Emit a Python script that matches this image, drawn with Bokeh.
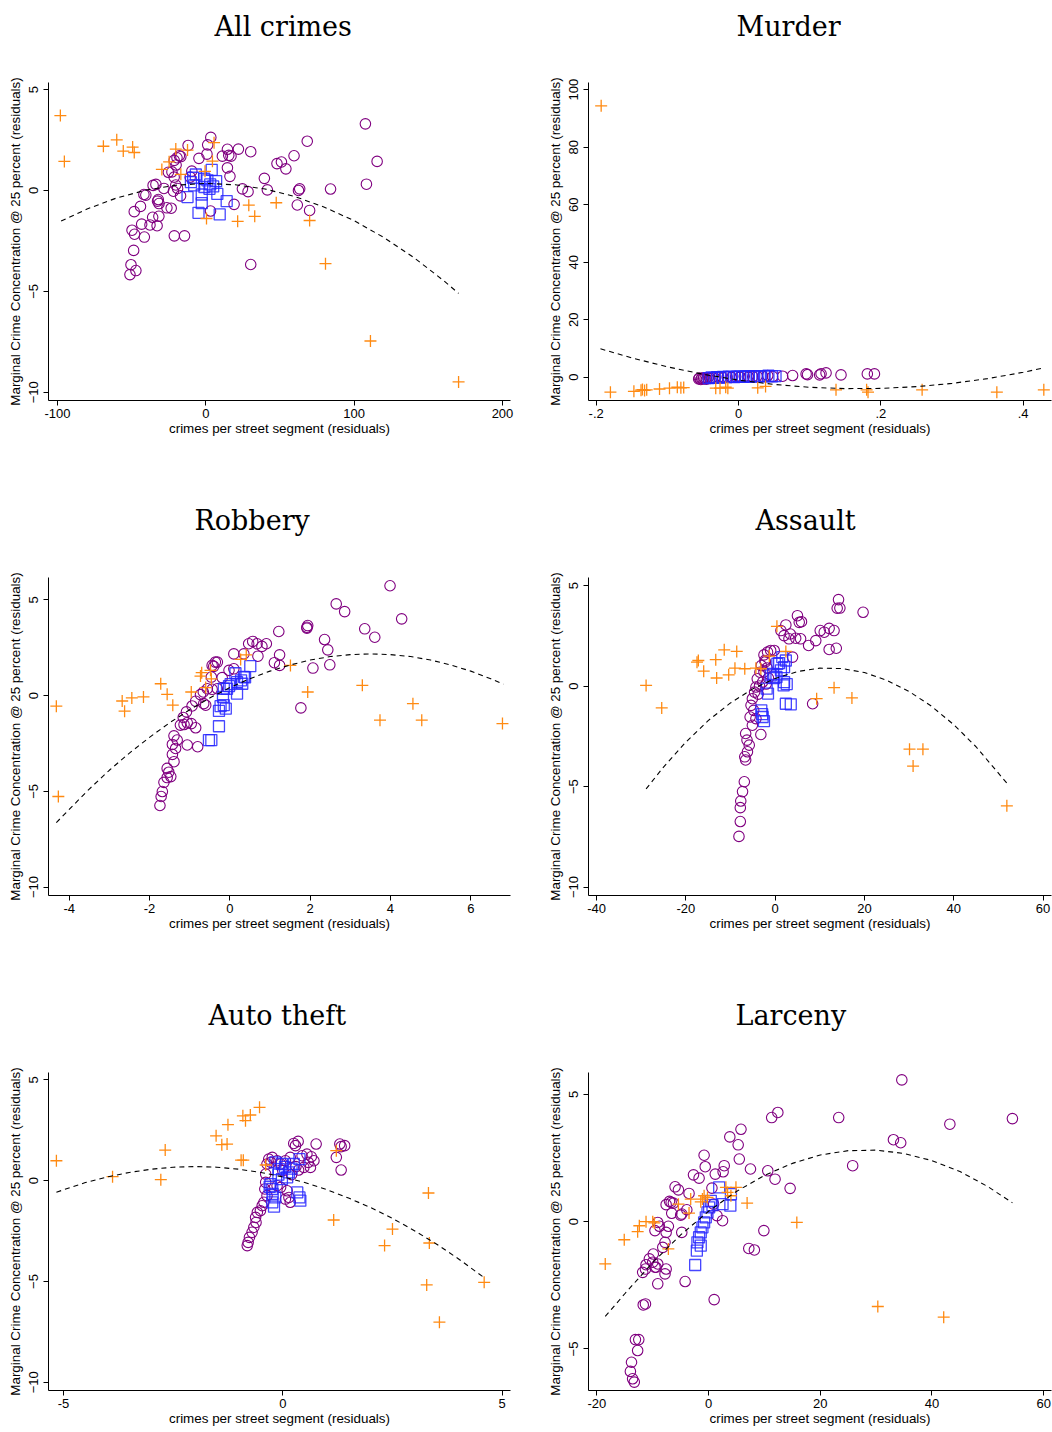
from bokeh.plotting import figure
from bokeh.layouts import gridplot
from bokeh.models import Range1d, FixedTicker
from bokeh.embed import file_html
from bokeh.resources import INLINE

# ---------------- data: All crimes ----------------
cx1 = [-11.9,3.4,1.3,0.8,-4.6,14.6,22.0,30.3,15.5,11.2,17.0,14.6,16.3,68.4,107.6,115.5,108.3,59.5,48.0,51.0,54.0,39.5,41.5,24.7,28.5,62.5,63.3,84.1,61.7,70.0,19.1,3.2,30.3,-14.3,-21.2,-41.4,-48.0,-49.7,-48.6,-50.4,-47.1,-51.1,-44.0,-48.2,-43.2,-37.6,-35.8,-32.8,-31.6,-32.5,-32.0,-31.5,-26.2,-23.3,-41.7,-40.4,-35.5,-33.6,-28.2,-25.2,-22.8,-21.3,-19.4,-17.8,-16.8,-20.0,-21.3,-20.2,-19.0,-21.8,-17.0,-9.4,-10.5]
cy1 = [2.23,2.63,2.26,1.80,1.59,2.04,2.05,1.92,1.74,1.70,1.70,1.12,0.70,2.44,3.30,1.44,0.31,1.72,1.33,1.41,1.07,0.60,0.03,0.08,-0.06,0.0,0.08,0.07,-0.72,-0.99,-0.69,-1.02,-3.67,-2.25,-2.25,-2.31,-2.17,-1.97,-2.97,-3.68,-3.97,-4.17,-0.79,-1.05,-1.67,-1.71,-1.33,-1.75,-1.28,-0.53,-0.45,-0.65,-0.86,-0.88,-0.20,-0.23,0.25,0.30,0.10,0.90,0.92,1.49,1.62,1.72,1.68,1.26,0.66,0.27,0.10,-0.04,-0.27,0.96,0.66]
bx1 = [-6.7,-8.5,-7.8,4.0,1.1,7.0,-0.9,2.5,7.8,-12.3,-2.7,14.1,-2.7,-4.9,9.4,-10.0,-1.0,3.0,5.0]
by1 = [0.79,0.63,0.25,1.02,0.50,0.46,0.17,0.08,-0.17,-0.33,-0.20,-0.53,-0.63,-1.11,-1.19,0.41,0.58,0.30,0.20]
ox1 = [-98.0,-95.3,-69.0,-60.0,-55.6,-49.3,-48.2,-29.6,-24.7,-20.2,-16.8,-12.3,-0.5,4.5,5.6,0.5,21.5,29.0,33.0,47.5,70.0,80.7,111.0,170.4]
oy1 = [3.71,1.44,2.19,2.51,1.95,2.15,1.88,1.04,1.42,2.05,0.80,2.00,0.95,1.45,2.37,-1.39,-1.53,-0.73,-1.28,-0.61,-1.49,-3.63,-7.46,-9.49]
fx1 = [-97.5,-80,-60,-40,-20,0,20,40,60,80,100,120,140,160,170.4]
fy1 = [-1.52,-0.92,-0.37,0.02,0.26,0.35,0.28,0.07,-0.30,-0.83,-1.50,-2.33,-3.31,-4.45,-5.10]

# ---------------- data: Murder ----------------
cx2 = [-0.056,-0.055,-0.053,-0.052,-0.050,-0.049,-0.047,-0.045,-0.043,-0.040,-0.037,-0.033,-0.028,-0.022,-0.016,-0.010,-0.004,0.002,0.008,0.014,0.020,0.026,0.034,0.041,0.048,0.062,0.076,0.095,0.097,0.114,0.116,0.123,0.144,0.181,0.191]
cy2 = [-0.6,-0.3,-0.8,-0.4,-0.6,-0.2,-0.5,-0.7,-0.3,-0.4,-0.1,-0.3,0.0,-0.2,0.1,-0.1,0.2,0.0,0.3,0.1,0.2,0.4,0.35,0.58,0.23,0.35,0.58,1.16,0.9,0.81,1.2,1.5,0.81,1.16,1.16]
bx2 = [-0.042,-0.038,-0.034,-0.030,-0.026,-0.022,-0.018,-0.014,-0.010,-0.006,-0.002,0.002,0.006,0.010,0.014,0.018,0.022,0.026,0.030,0.036,0.042,0.047,0.052]
by2 = [-0.3,-0.1,-0.2,0.0,-0.1,0.1,0.0,0.2,0.1,0.0,0.2,0.3,0.1,0.3,0.2,0.4,0.3,0.2,0.4,0.3,0.5,0.3,0.4]
ox2 = [-0.193,-0.180,-0.147,-0.137,-0.135,-0.132,-0.129,-0.111,-0.097,-0.086,-0.081,-0.077,-0.032,-0.026,-0.018,-0.015,0.027,0.038,0.137,0.180,0.182,0.258,0.363,0.429]
oy2 = [94.4,-5.2,-4.9,-4.5,-4.3,-4.6,-4.4,-4.1,-3.8,-3.5,-3.7,-3.6,-3.8,-3.8,-3.5,-3.8,-3.7,-3.2,-4.4,-4.4,-5.2,-4.4,-5.2,-4.4]
fx2 = [-0.194,-0.15,-0.1,-0.05,0.0,0.05,0.1,0.15,0.2,0.25,0.3,0.35,0.4,0.428]
fy2 = [9.89,6.72,3.61,1.04,-1.01,-2.52,-3.51,-3.97,-3.89,-3.29,-2.15,-0.49,1.71,3.17]

# ---------------- data: Robbery ----------------
cx3 = [3.99,2.65,2.86,4.28,3.36,3.61,1.92,1.92,1.94,2.36,2.44,2.49,2.07,1.22,1.24,1.24,1.11,1.77,0.10,0.35,0.47,0.57,0.68,0.80,0.91,0.70,-0.40,-0.31,-0.46,-0.19,-0.02,0.10,-0.31,-0.44,-0.56,-0.66,-0.73,-0.65,-0.60,-0.85,-0.94,-1.08,-1.16,-1.06,-0.96,-0.85,-1.14,-1.23,-1.39,-1.31,-1.43,-1.35,-1.06,-0.80,-1.43,-1.39,-1.56,-1.52,-1.47,-1.56,-1.64,-1.68,-1.71,-1.74,-0.36,-0.44]
cy3 = [5.74,4.79,4.39,4.01,3.49,3.05,3.57,3.52,3.66,2.93,2.39,1.61,1.44,3.35,2.13,1.58,1.72,-0.64,2.18,2.18,2.71,2.83,2.71,2.57,2.71,2.06,1.53,1.75,0.97,0.94,1.32,1.40,0.36,0.33,0.36,0.19,0.05,-0.42,-0.50,-0.29,-0.54,-0.85,-1.14,-1.42,-1.46,-1.68,-1.51,-1.54,-2.10,-2.32,-2.55,-2.76,-2.58,-2.67,-3.07,-3.45,-3.80,-4.00,-4.23,-4.28,-4.53,-5.01,-5.27,-5.74,1.75,1.58]
bx3 = [0.51,0.35,0.28,0.31,0.14,0.18,0.02,-0.02,-0.15,-0.17,0.18,-0.23,-0.15,-0.10,-0.27,-0.27,-0.52,-0.46,0.38,-0.07]
by3 = [1.54,0.98,0.80,0.62,1.17,0.71,0.60,0.50,0.36,-0.07,0.10,-0.55,-0.50,-0.68,-0.80,-1.60,-2.32,-2.32,0.95,0.36]
ox3 = [-4.32,-4.27,-2.68,-2.62,-2.44,-2.15,-1.72,-1.56,-1.42,-0.96,-0.70,-0.73,-0.48,-0.46,-0.60,0.27,0.41,1.51,1.94,3.30,3.74,4.56,4.78,6.79]
oy3 = [-0.55,-5.27,-0.28,-0.81,-0.12,-0.07,0.62,0.07,-0.50,0.19,1.20,1.02,1.32,0.88,0.42,1.89,2.13,1.58,0.19,0.54,-1.28,-0.42,-1.28,-1.46]
fx3 = [-4.32,-3.5,-3,-2.5,-2,-1.5,-1,-0.5,0,0.5,1,1.5,2,2.5,3,3.5,4,4.5,5,5.5,6,6.5,6.81]
fy3 = [-6.63,-4.88,-3.90,-3.00,-2.18,-1.42,-0.74,-0.12,0.42,0.88,1.28,1.60,1.86,2.04,2.14,2.18,2.14,2.04,1.86,1.60,1.28,0.88,0.60]

# ---------------- data: Assault ----------------
cx4 = [14.2,13.9,14.5,19.7,5.0,5.9,5.4,2.4,1.3,2.0,3.4,3.1,4.6,5.7,7.5,9.1,10.1,11.0,12.1,13.2,12.1,13.7,3.9,8.4,-1.7,-1.0,-2.5,-0.2,-3.1,-3.4,-4.0,-4.3,-4.6,-5.1,-5.4,-4.8,-5.6,-4.3,-5.1,-3.2,-6.6,-6.3,-5.8,-6.2,-6.8,-6.6,-6.9,-7.3,-7.7,-7.8,-7.8,-8.1,-2.2,-1.8,-2.5,-1.5,-2.8,-3.5,-3.8,-2.0,-2.3]
cy4 = [4.30,3.87,3.88,3.67,3.50,3.20,3.17,3.04,2.76,2.51,2.59,2.35,2.38,2.35,2.02,2.26,2.76,2.68,2.87,2.76,1.82,1.88,1.44,-0.88,1.69,1.77,1.55,1.77,1.02,0.69,0.36,-0.05,-0.30,-0.63,-0.96,-1.21,-1.54,-1.62,-1.95,-2.41,-2.36,-2.69,-2.94,-3.27,-3.52,-3.68,-4.76,-5.25,-5.72,-6.05,-6.74,-7.48,1.2,0.9,0.7,0.4,0.2,0.0,-0.4,0.1,1.27]
bx4 = [1.6,2.4,0.5,2.0,1.3,-1.0,-0.2,-1.9,-1.6,2.0,2.4,3.5,-3.1,-2.8,-2.5,0.9,2.6,1.9,-2.9,-0.5,0.3]
by4 = [1.44,1.27,1.11,0.94,0.78,0.53,0.40,-0.13,-0.38,0.20,-0.88,-0.91,-1.21,-1.54,-1.75,1.14,0.10,0.03,-1.40,0.60,0.45]
ox4 = [-28.9,-25.4,-17.5,-17.2,-16.0,-13.3,-13.1,-11.4,-10.4,-8.6,-9.0,-6.8,-4.3,-3.2,-1.3,0.4,2.4,9.3,13.2,17.2,30.1,33.1,30.9,51.9]
oy4 = [0.03,-1.09,1.19,1.27,0.74,1.31,0.40,1.80,0.56,1.72,0.89,0.86,0.89,0.86,1.49,2.97,1.72,-0.63,-0.08,-0.59,-3.14,-3.14,-3.98,-5.96]
fx4 = [-28.9,-25,-20,-15,-10,-5,0,5,10,15,20,25,30,35,40,45,51.9]
fy4 = [-5.12,-4.03,-2.79,-1.72,-0.84,-0.14,0.38,0.72,0.89,0.87,0.67,0.29,-0.27,-1.00,-1.92,-3.02,-4.83]

# ---------------- data: Auto theft ----------------
cx5 = [0.76,0.25,0.35,0.29,1.30,1.41,1.33,1.22,1.33,0.44,0.55,0.65,0.71,0.58,0.63,0.48,0.36,0.17,-0.32,-0.24,-0.36,-0.39,-0.27,-0.13,-0.05,0.06,-0.39,-0.41,-0.36,-0.43,-0.47,-0.51,-0.58,-0.62,-0.61,-0.66,-0.70,-0.76,-0.79,-0.81,0.10,0.14,0.17,0.06,-0.05,-0.13,0.0,0.2,0.3]
cy5 = [1.82,1.85,1.95,1.74,1.82,1.74,1.69,1.16,0.53,1.24,1.32,1.19,0.99,0.91,0.66,0.66,0.53,1.16,1.07,1.16,0.83,0.33,0.91,0.99,0.83,0.99,-0.08,-0.41,-0.74,-1.07,-1.24,-1.49,-1.57,-1.82,-2.07,-2.31,-2.56,-2.81,-3.06,-3.22,-0.50,-0.83,-1.07,-0.91,-0.33,-0.25,0.5,0.3,0.7]
bx5 = [-0.17,-0.02,-0.09,0.05,0.14,0.25,0.38,0.10,-0.02,-0.28,-0.24,-0.23,-0.17,-0.24,-0.20,0.33,0.38,0.40,-0.10,0.20,-0.30]
by5 = [0.91,0.83,0.58,0.69,0.41,0.83,1.07,0.17,0.08,-0.17,-0.41,-0.66,-0.83,-1.07,-1.29,-0.58,-0.83,-0.99,0.30,0.60,-0.30]
ox5 = [-5.16,-3.88,-2.68,-2.78,-1.52,-1.39,-1.27,-1.25,-0.95,-0.90,-0.91,-0.85,-0.74,-0.53,-0.39,1.16,1.22,2.32,2.50,3.32,3.34,3.28,3.57,4.59]
oy5 = [0.99,0.20,1.52,0.05,2.23,1.79,1.82,2.78,1.02,1.02,3.22,2.98,3.26,3.64,0.78,-1.95,1.49,-3.22,-2.40,-0.61,-3.09,-5.17,-7.02,-5.04]
fx5 = [-5.16,-4.5,-4,-3.5,-3,-2.5,-2,-1.5,-1,-0.5,0,0.5,1,1.5,2,2.5,3,3.5,4,4.59]
fy5 = [-0.57,-0.09,0.19,0.41,0.57,0.67,0.70,0.67,0.57,0.41,0.19,-0.09,-0.44,-0.86,-1.33,-1.87,-2.48,-3.14,-3.87,-4.81]

# ---------------- data: Larceny ----------------
cx6 = [34.6,12.4,11.3,23.3,43.2,54.4,33.1,34.4,25.8,5.8,3.8,5.3,5.5,-0.8,-0.6,7.5,10.6,11.9,14.6,2.8,2.6,1.2,-2.7,-1.7,-3.5,-6.0,-5.4,0.6,-7.0,-7.6,-6.7,-6.3,-6.6,-5.0,-4.8,-3.9,0.9,1.5,2.5,9.9,7.2,8.2,1.0,-4.2,-9.1,-9.6,-8.8,-7.2,-7.6,-7.8,-8.2,-9.9,-9.1,-9.6,-7.6,-7.8,-11.2,-11.8,-11.3,-10.6,-9.1,-11.7,-11.3,-13.1,-12.5,-12.7,-13.8,-14.0,-13.6,-13.3,-4.8,-9.4,-10.0]
cy6 = [5.57,4.29,4.09,4.09,3.83,4.05,3.22,3.10,2.20,3.63,3.33,3.02,2.46,2.61,2.16,2.07,2.00,1.67,1.31,2.20,1.96,1.87,1.84,1.71,1.11,1.37,1.25,1.32,0.80,0.67,0.76,0.73,0.33,0.26,0.30,0.47,0.69,0.24,0.04,-0.35,-1.05,-1.11,-3.06,-2.35,-0.03,-0.35,-0.18,-0.18,-0.42,-0.81,-1.01,-1.27,-1.66,-1.79,-1.86,-2.05,-1.69,-1.99,-1.86,-1.46,-2.44,-3.27,-3.23,-4.63,-4.63,-5.06,-5.52,-5.88,-6.17,-6.30,-0.42,-1.79,-1.59]
bx6 = [1.9,4.0,3.9,0.4,0.7,0.1,-0.2,-0.5,-0.8,-1.1,-1.4,-1.7,-2.0,-1.4,-2.1,-2.4,2.5]
by6 = [1.35,1.08,0.63,0.82,0.65,0.56,0.37,0.17,-0.03,-0.22,-0.42,-0.61,-0.81,-0.94,-1.14,-1.70,0.69]
ox6 = [-18.5,-15.1,-12.7,-12.4,-11.2,-10.0,-9.7,-7.2,-5.4,-3.5,-3.2,-1.4,-0.8,-0.2,-1.1,3.1,4.9,4.0,3.4,6.9,15.8,30.3,42.1]
oy6 = [-1.66,-0.71,-0.39,-0.16,0.0,0.0,-0.05,-1.07,0.69,0.34,0.89,0.78,1.02,0.95,0.89,1.35,1.35,1.02,1.15,0.73,-0.03,-3.33,-3.75]
fx6 = [-18.5,-15,-10,-5,0,5,10,15,20,25,30,35,40,45,50,54.4]
fy6 = [-3.72,-2.83,-1.60,-0.52,0.41,1.19,1.82,2.29,2.62,2.79,2.81,2.68,2.40,1.97,1.38,0.74]

# ---------------- titles and ticks ----------------
titles = ["All crimes", "Murder", "Robbery", "Assault", "Auto theft", "Larceny"]
xticks = [[-100, 0, 100, 200], [-0.2, 0, 0.2, 0.4], [-4, -2, 0, 2, 4, 6],
          [-40, -20, 0, 20, 40, 60], [-5, 0, 5], [-20, 0, 20, 40, 60]]
xtlabels = [["-100", "0", "100", "200"], ["-.2", "0", ".2", ".4"], ["-4", "-2", "0", "2", "4", "6"],
            ["-40", "-20", "0", "20", "40", "60"], ["-5", "0", "5"], ["-20", "0", "20", "40", "60"]]
yticks = [[-10, -5, 0, 5], [0, 20, 40, 60, 80, 100], [-10, -5, 0, 5],
          [-10, -5, 0, 5], [-10, -5, 0, 5], [-5, 0, 5]]
xlims = [(-106, 205.4), (-0.2108, 0.4398), (-4.515, 6.99), (-41.8, 61.9), (-5.34, 5.19), (-21.5, 61.4)]
ylims = [(-10.41, 5.35), (-8.1, 102.5), (-10.44, 6.17), (-10.42, 5.40), (-10.41, 5.37), (-6.63, 5.86)]
XLABEL = "crimes per street segment (residuals)"
YLABEL = "Marginal Crime Concentration @ 25 percent (residuals)"

circles = [(cx1, cy1), (cx2, cy2), (cx3, cy3), (cx4, cy4), (cx5, cy5), (cx6, cy6)]
squares = [(bx1, by1), (bx2, by2), (bx3, by3), (bx4, by4), (bx5, by5), (bx6, by6)]
pluses = [(ox1, oy1), (ox2, oy2), (ox3, oy3), (ox4, oy4), (ox5, oy5), (ox6, oy6)]
fits = [(fx1, fy1), (fx2, fy2), (fx3, fy3), (fx4, fy4), (fx5, fy5), (fx6, fy6)]

PURPLE = "#800080"
BLUE = "#2626ff"
ORANGE = "#ff8a12"
SANS = "Liberation Sans"

FH = 318
frame_w = [462, 463]
right_b = [30, 1]
bottom_b = [95, 95, 40]
title_left = [166, 148, 146, 167, 160, 147]
title_standoff = [4, 0, 0]
title_lh = [1.2, 1.3, 1.3]


def make_panel(i):
    col = i % 2
    rowi = i // 2
    p = figure(frame_width=frame_w[col], frame_height=FH,
               x_range=Range1d(*xlims[i]), y_range=Range1d(*ylims[i]),
               output_backend="svg", toolbar_location=None,
               min_border_left=48, min_border_right=right_b[col],
               min_border_top=82, min_border_bottom=bottom_b[rowi],
               title=titles[i] + "\n")
    p.title.align = "left"
    p.title.vertical_align = "top"
    p.title.text_font = "DejaVu Serif"
    p.title.text_font_size = "27px"
    p.title.text_font_style = "normal"
    p.title.text_color = "black"
    p.title.text_line_height = title_lh[rowi]
    p.title.offset = title_left[i]
    p.title.standoff = title_standoff[rowi]
    p.grid.visible = False
    p.outline_line_color = None
    p.background_fill_color = "white"
    p.border_fill_color = "white"

    for ax in (p.xaxis[0], p.yaxis[0]):
        ax.axis_line_color = "black"
        ax.axis_line_width = 1
        ax.major_tick_line_color = "black"
        ax.minor_tick_line_color = None
        ax.major_tick_out = 5
        ax.major_tick_in = 0
        ax.major_label_text_font = SANS
        ax.major_label_text_font_size = "13px"
        ax.major_label_text_color = "black"
        ax.axis_label_text_font = SANS
        ax.axis_label_text_font_size = "13.4px"
        ax.axis_label_text_font_style = "normal"
        ax.axis_label_text_color = "black"
    p.xaxis.major_label_standoff = 3
    p.xaxis.axis_label_standoff = 0
    p.yaxis.major_label_standoff = 5
    p.yaxis.axis_label_standoff = 4

    p.xaxis.ticker = FixedTicker(ticks=xticks[i])
    p.xaxis.major_label_overrides = {t: s for t, s in zip(xticks[i], xtlabels[i])}
    p.yaxis.ticker = FixedTicker(ticks=yticks[i])
    p.yaxis.major_label_orientation = "vertical"
    p.xaxis.axis_label = XLABEL
    p.yaxis.axis_label = YLABEL

    cx, cy = circles[i]
    p.scatter(cx, cy, marker="circle", size=10.5, fill_color=None,
              line_color=PURPLE, line_width=1.1)
    bx, by = squares[i]
    p.scatter(bx, by, marker="square", size=11, fill_color=None,
              line_color=BLUE, line_width=1.3, line_alpha=0.85)
    ox, oy = pluses[i]
    p.scatter(ox, oy, marker="cross", size=12, line_color=ORANGE, line_width=1.3)
    fx, fy = fits[i]
    p.line(fx, fy, line_color="black", line_width=1.1, line_dash="5 4")
    return p


panels = [make_panel(i) for i in range(6)]
grid = gridplot([[panels[0], panels[1]], [panels[2], panels[3]], [panels[4], panels[5]]],
                toolbar_location=None)

open("out.html", "w").write(file_html(grid, INLINE))
